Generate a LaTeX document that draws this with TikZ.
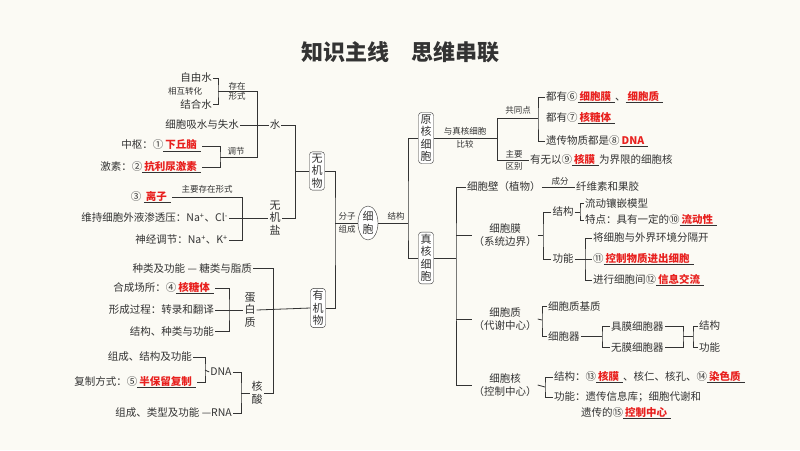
\documentclass[tikz,border=0pt]{standalone}
\usepackage{fontspec}
\setmainfont{Noto Sans CJK SC}
\usetikzlibrary{shapes.geometric}
\definecolor{paper}{HTML}{FBFAF4}
\definecolor{ink}{HTML}{333333}
\definecolor{ansred}{HTML}{E8201E}
\newcommand{\ans}[1]{\underline{\hspace{2pt}\textcolor{ansred}{\bfseries #1}\hspace{4pt}}}

\begin{document}
\begin{tikzpicture}[
                x = 1pt, y = -1pt, % pixel grid
                every node/.style = {inner sep = 1pt, text = ink, font = \fontsize{10.5}{12.5}\selectfont},
                small/.style = {font = \fontsize{8.5}{10}\selectfont},
                vbox/.style = {draw = ink, rounded corners = 3pt, align = center, inner sep = 2pt,
                    font = \fontsize{11}{12.5}\selectfont, fill = white},
                vtext/.style = {align = center, font = \fontsize{11}{12.5}\selectfont},
                link/.style = {draw = ink, line width = 0.8pt}
            ]

            \fill[paper] (0,0) rectangle (800,450);
            \useasboundingbox (0,0) rectangle (800,450);

            \node (title) at (400,52) {\fontsize{22}{26}\selectfont\bfseries 知识主线\quad 思维串联};

            % water
            \node (zy) [anchor=east] at (213,78) {自由水};
            \node (hz) [small] at (185,91) {相互转化};
            \node (jh) [anchor=east] at (213,104) {结合水};
            \node (cz) [small, align=center] at (237,91) {存在\\形式};
            \node (xs) [anchor=east] at (240,125) {细胞吸水与失水};
            \node (sh) at (275,125) {水};
            \node (zs) [anchor=east] at (202,146) {中枢：①\ans{下丘脑}};
            \node (js) [anchor=east] at (202,167) {激素：②\ans{抗利尿激素}};
            \node (tj) [small] at (236,151) {调节};
            \coordinate (b1) at (218,91);
            \coordinate (b2) at (220,157);
            \coordinate (s1t) at (257,91);
            \coordinate (s1b) at (257,157);
            \draw[link] (zy.east) -| (b1) |- (jh.east);
            \draw[link] (zs.east) -| (b2) |- (js.east);
            \draw[link] (b1) -- (s1t) -- (s1b) -- (b2);
            \draw[link] (xs.east) -- (sh.west);

            % salts
            \node (lz) [anchor=east] at (172,197) {③ \ans{离子}};
            \node (zycz) [small] at (207,189) {主要存在形式};
            \node (wc) [anchor=east] at (229,218) {维持细胞外液渗透压：Na\textsuperscript{+}、Cl\textsuperscript{-}};
            \node (sj) [anchor=east] at (229,240) {神经调节：Na\textsuperscript{+}、K\textsuperscript{+}};
            \node (wjs) [vtext] at (275,218) {无\\机\\盐};
            \coordinate (s3t) at (242,197);
            \draw[link] (lz.east) -- (s3t) |- (sj.east);
            \draw[link] (wc.east) -- (wjs.west);

            \node (wjy) [vbox] at (317,171) {无\\机\\物};
            \coordinate (s2t) at (295,125);
            \coordinate (s2b) at (295,218);
            \draw[link] (sh.east) -- (s2t) -- (s2b) -- (wjs.east);
            \draw[link] (wjy.west) -- (wjy.west -| s2t);

            % organic
            \node (tl) [anchor=east] at (253,268) {种类及功能 — 糖类与脂质};
            \node (hc) [anchor=east] at (215,288) {合成场所：④\ans{核糖体}};
            \node (xc) [anchor=east] at (215,310) {形成过程：转录和翻译};
            \node (jg) [anchor=east] at (215,331) {结构、种类与功能};
            \node (dbz) [vtext] at (250,310) {蛋\\白\\质};
            \node (zj) [anchor=east] at (193,357) {组成、结构及功能};
            \node (fz) [anchor=east] at (197,382) {复制方式：⑤\ans{半保留复制}};
            \node (dna) at (221,372) {DNA};
            \node (rna) [anchor=east] at (233,413) {组成、类型及功能 —RNA};
            \node (hs) [vtext] at (257,393) {核\\酸};
            \node (yjw) [vbox] at (318,308) {有\\机\\物};
            \coordinate (b3) at (229,310);
            \coordinate (b4) at (205,370);
            \coordinate (b5) at (241,393);
            \coordinate (s6t) at (273,268);
            \draw[link] (hc.east) -| (b3) |- (jg.east);
            \draw[link] (xc.east) -- (dbz.west);
            \draw[link] (dbz.east) -- (yjw.west);
            \draw[link] (zj.east) -| (b4) |- (fz.east);
            \draw[link] (b4) -- (dna.west);
            \draw[link] (dna.east) -| (b5) |- (rna.east);
            \draw[link] (b5) -- (hs.west);
            \draw[link] (tl.east) -- (s6t) |- (hs.east);

            % cell
            \node (xb) [draw=ink, ellipse, align=center, inner sep=0pt, minimum width=20pt, minimum height=34pt,
                font=\fontsize{11}{12.5}\selectfont, fill=white] at (368,223) {细\\胞};
            \node (fzzc) [small, align=center] at (347,223) {分子\\[3pt]组成};
            \node (jgl) [small] at (396,216) {结构};
            \coordinate (s4) at (335,223);
            \draw[link] (wjy.east) -| (s4) |- (yjw.east);
            \draw[link] (s4) -- (xb.west);

            \node (yh) [vbox] at (426,138) {原\\核\\细\\胞};
            \node (zh) [vbox] at (426,258) {真\\核\\细\\胞};
            \coordinate (s5) at (408,223);
            \draw[link] (xb.east) -- (s5);
            \draw[link] (yh.west) -| (s5) |- (zh.west);

            % prokaryote
            \node (bj) [small, align=center] at (465,138) {与真核细胞\\[3pt]比较};
            \node (gt) [small] at (518,110) {共同点};
            \node (qb) [small, align=center] at (514,160) {主要\\[2pt]区别};
            \node (p1) [anchor=west] at (545,97) {都有⑥\ans{细胞膜}、\ans{细胞质}};
            \node (p2) [anchor=west] at (545,118) {都有⑦\ans{核糖体}};
            \node (p3) [anchor=west] at (545,141) {遗传物质都是⑧\ans{DNA}};
            \node (p4) [anchor=west] at (529,160) {有无以⑨\ans{核膜}为界限的细胞核};
            \coordinate (s7) at (497,138);
            \coordinate (b6) at (538,118);
            \draw[link] (yh.east) -- (s7);
            \draw[link] (s7 |- p2.west) -- (s7 |- p4.west) -- (p4.west);
            \draw[link] (s7 |- p2.west) -- (b6);
            \draw[link] (p1.west) -| (b6) |- (p3.west);

            % eukaryote
            \node (bi) [anchor=west] at (466,187) {细胞壁（植物）};
            \node (cf) [small] at (560,181) {成分};
            \node (xw) [anchor=west] at (575,187) {纤维素和果胶};
            \node (mo) [align=center] at (505,235) {细胞膜\\（系统边界）};
            \node (mjg) at (563,212) {结构};
            \node (mgn) at (563,259) {功能};
            \node (m1) [anchor=west] at (584,203) {流动镶嵌模型};
            \node (m2) [anchor=west] at (584,220) {特点：具有一定的⑩\ans{流动性}};
            \node (m3) [anchor=west] at (592,238) {将细胞与外界环境分隔开};
            \node (m4) [anchor=west] at (592,259) {⑪\ans{控制物质进出细胞}};
            \node (m5) [anchor=west] at (592,280) {进行细胞间⑫\ans{信息交流}};
            \node (zi) [align=center] at (505,319) {细胞质\\（代谢中心）};
            \node (jz) [anchor=west] at (547,306) {细胞质基质};
            \node (qg) [anchor=west] at (547,336) {细胞器};
            \node (jm) [anchor=west] at (610,326) {具膜细胞器};
            \node (wm) [anchor=west] at (610,347) {无膜细胞器};
            \node (qjg) [anchor=west] at (698,326) {结构};
            \node (qgn) [anchor=west] at (698,347) {功能};
            \node (he) [align=center] at (505,385) {细胞核\\（控制中心）};
            \node (h1) [anchor=west] at (553,377) {结构：⑬\ans{核膜}、核仁、核孔、⑭\ans{染色质}};
            \node (h2) [anchor=west] at (553,397) {功能：遗传信息库；细胞代谢和};
            \node (h3) [anchor=west] at (580,413) {遗传的⑮\ans{控制中心}};

            \coordinate (s8) at (456,258);
            \draw[link] (zh.east) -- (s8);
            \draw[link] (bi.west) -| (s8) |- (he.west);
            \draw[link] (s8 |- mo.west) -- (mo.west);
            \draw[link] (s8 |- zi.west) -- (zi.west);
            \draw[link] (bi.east) -- (xw.west);
            \coordinate (b7) at (543,235);
            \coordinate (b8) at (580,212);
            \coordinate (b9) at (585,259);
            \draw[link] (mo.east) -- (b7);
            \draw[link] (mjg.west) -| (b7) |- (mgn.west);
            \draw[link] (mjg.east) -- (b8);
            \draw[link] (m1.west) -| (b8) |- (m2.west);
            \draw[link] (mgn.east) -- (m4.west);
            \draw[link] (m3.west) -| (b9) |- (m5.west);
            \coordinate (b10) at (542,320);
            \coordinate (b11) at (602,336);
            \coordinate (b12) at (683,336);
            \coordinate (b13) at (693,336);
            \draw[link] (zi.east) -- (b10);
            \draw[link] (jz.west) -| (b10) |- (qg.west);
            \draw[link] (qg.east) -- (b11);
            \draw[link] (jm.west) -| (b11) |- (wm.west);
            \draw[link] (jm.east) -| (b12) |- (wm.east);
            \draw[link] (b12) -- (b13);
            \draw[link] (qjg.west) -| (b13) |- (qgn.west);
            \coordinate (b14) at (545,387);
            \draw[link] (he.east) -- (b14);
            \draw[link] (h1.west) -| (b14) |- (h2.west);

        \end{tikzpicture}
\end{document}
